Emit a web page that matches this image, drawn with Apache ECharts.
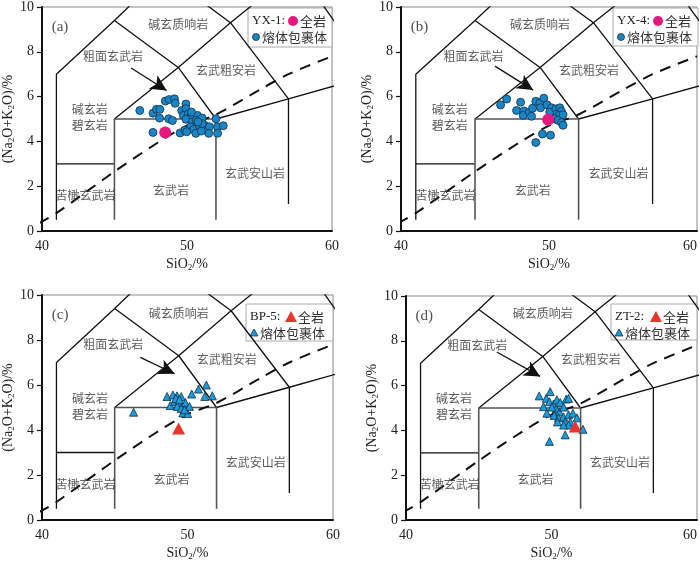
<!DOCTYPE html>
<html><head><meta charset="utf-8">
<script src="https://cdn.jsdelivr.net/npm/echarts@6/dist/echarts.min.js"></script>
<style>html,body{margin:0;padding:0;background:#fff}#c{width:700px;height:562px}</style>
</head><body><div id="c"></div>
<script>
// ---- axis ticks ----
const xTicks = [40, 50, 60];
const yTicks = [0, 2, 4, 6, 8, 10];

// ---- TAS boundary polylines ----
const tasLinesBlack = [
  [[41,0.5],[41,7],[45,9.4],[48.4,11.5]],
  [[41,3],[45,3]],
  [[45,9.4],[49.4,7.3],[52,5]],
  [[45,5],[49.4,7.3],[53,9.3],[57.6,11.7]],
  [[48.4,11.5],[53,9.3],[57,5.9],[57,1.2]],
  [[52,5],[57,5.9],[63,7]],
  [[57.6,11.7],[61,8.6]]
];
const tasLinesGray = [
  [[45,0.5],[45,5],[52,5],[52,0.5]]
];
const alkDivide = [[39.8,0.35],[41,0.8],[45,2.65],[48,3.95],[50,4.7],[52,5.2],[55,6.3],[57,7.0],[60,7.8]];

// ---- field names ----
const fieldNames = ['碱玄质响岩','粗面玄武岩','玄武粗安岩','碱玄岩\n碧玄岩','玄武安山岩','玄武岩','苦橄玄武岩'];
const fieldPos = [[49.4,9.2],[44.9,7.8],[52.7,7.15],[43.3,5.05],[54.7,2.55],[48.9,1.8],[43.0,1.6]];

// ---- panel (a) YX-1 ----
const bulkA = [[48.5,4.4]];
const inclA = [[46.75,5.38],[47.66,4.40],[47.66,5.26],[47.9,5.43],[48.13,5.43],[48.11,5.04],[48.51,5.80],[48.78,5.87],[49.14,5.90],[49.19,5.70],[48.74,5.01],[49.0,4.93],[49.53,4.38],[49.64,5.38],[49.93,5.67],[49.93,5.46],[49.75,5.16],[50.09,5.23],[50.25,5.09],[49.93,4.99],[50.38,4.87],[50.72,5.16],[50.65,4.94],[51.05,5.04],[50.25,4.65],[50.47,4.53],[50.88,4.65],[49.86,4.50],[49.98,4.43],[50.61,4.36],[51.22,4.72],[51.55,4.65],[52.0,5.01],[52.11,4.65],[52.5,4.70],[51.5,4.36],[52.11,4.36],[50.31,5.31],[50.99,4.46],[51.05,4.79],[50.76,4.87]];
const arrowA = [[46.15,7.28],[48.6,6.27]];

// ---- panel (b) YX-4 ----
const bulkB = [[49.94,4.97]];
const inclB = [[46.73,5.63],[47.14,5.89],[47.81,5.38],[48.08,5.75],[48.3,5.36],[48.26,5.16],[48.67,5.31],[48.82,5.12],[48.89,5.48],[49.11,5.79],[49.38,5.72],[49.43,5.5],[49.65,5.93],[49.87,5.63],[50.17,5.5],[50.05,5.31],[50.46,5.45],[50.55,5.23],[50.73,5.5],[50.84,5.34],[50.68,5.16],[50.39,5.01],[50.61,4.94],[50.84,4.84],[50.95,4.72],[49.56,4.33],[50.1,4.28],[49.11,3.95],[50.95,5.19]];
const arrowB = [[46.35,7.36],[48.93,6.29]];

// ---- panel (c) BP-5 ----
const bulkC = [[49.39,4.07]];
const inclC = [[46.3,4.79],[48.6,5.49],[48.82,5.09],[49.0,5.56],[49.28,5.52],[49.57,5.49],[49.12,5.27],[49.42,5.2],[49.68,5.05],[49.86,5.22],[49.3,5.05],[49.57,4.95],[49.68,4.76],[50.02,4.73],[50.14,5.05],[50.29,5.6],[50.76,5.82],[51.3,6.0],[51.19,5.49],[51.71,5.52],[49.2,5.4],[49.45,5.35],[49.8,4.9]];
const arrowC = [[46.76,7.23],[49.12,6.5]];

// ---- panel (d) ZT-2 ----
const bulkD = [[51.63,4.17]];
const inclD = [[49.15,5.54],[49.64,5.43],[49.91,5.73],[49.45,5.06],[49.68,4.77],[49.86,5.28],[50.14,5.18],[50.37,5.37],[50.6,5.25],[51.01,5.4],[51.17,5.43],[50.32,4.96],[50.55,4.82],[50.83,5.04],[50.18,4.67],[50.48,4.56],[50.83,4.6],[51.17,4.7],[51.47,4.77],[51.75,4.56],[50.94,4.38],[51.29,4.38],[51.17,4.24],[50.83,4.24],[50.41,4.38],[52.16,4.05],[50.94,3.80],[49.86,3.51],[50.03,5.04]];
const arrowD = [[46.24,7.5],[49.22,6.41]];

const panels = [
  {tag:'(a)', sample:'YX-1:', bulk:bulkA, incl:inclA, arrow:arrowA, shape:'circle',
   grid:{left:36,top:3,width:296,height:228}, box:[248,8,84,39], alignMax:false},
  {tag:'(b)', sample:'YX-4:', bulk:bulkB, incl:inclB, arrow:arrowB, shape:'circle',
   grid:{left:401,top:3,width:297,height:228}, box:[613,8,85,38], alignMax:true},
  {tag:'(c)', sample:'BP-5:', bulk:bulkC, incl:inclC, arrow:arrowC, shape:'triangle',
   grid:{left:37,top:295,width:296,height:229}, box:[246,304,87,37], alignMax:false},
  {tag:'(d)', sample:'ZT-2:', bulk:bulkD, incl:inclD, arrow:arrowD, shape:'triangle',
   grid:{left:406,top:296,width:291,height:230}, box:[611,304,86,36], alignMax:true}
];

const SERIF = 'Liberation Serif, DejaVu Serif, serif';
const CJK = 'Noto Sans CJK SC';
const PINK = '#e5197f', RED = '#e8342c', BLUEC = '#1a86c6', BLUET = '#1d9ad8', EDGE = '#123048';

const grids = [], xAxes = [], yAxes = [], series = [], graphics = [];
panels.forEach((p, i) => {
  grids.push(Object.assign({show:true, borderColor:'#888', borderWidth:1, backgroundColor:'#fff'}, p.grid));
  xAxes.push({
    type:'value', gridIndex:i, min:xTicks[0], max:xTicks[xTicks.length-1], interval:xTicks[1]-xTicks[0],
    axisLine:{show:true, onZero:false, lineStyle:{color:'#111', width:2}},
    axisTick:{show:false}, splitLine:{show:false},
    axisLabel:{fontFamily:SERIF, fontSize:14, color:'#222', margin:8, alignMaxLabel: p.alignMax ? 'right' : null},
    name:'{t|SiO}{s|2}{t|/%}', nameLocation:'middle', nameGap:25,
    nameTextStyle:{rich:{t:{fontFamily:SERIF, fontSize:14, color:'#222'}, s:{fontFamily:SERIF, fontSize:9, color:'#222', padding:[7,0,0,0]}}}
  });
  yAxes.push({
    type:'value', gridIndex:i, min:yTicks[0], max:yTicks[yTicks.length-1], interval:yTicks[1]-yTicks[0],
    axisLine:{show:true, onZero:false, lineStyle:{color:'#111', width:2}},
    axisTick:{show:true, length:5, lineStyle:{color:'#111', width:1.2}}, splitLine:{show:false},
    axisLabel:{fontFamily:SERIF, fontSize:14, color:'#222', margin:8},
    name:'{t|(Na}{s|2}{t|O+K}{s|2}{t|O)/%}', nameLocation:'middle', nameGap:19, nameRotate:90,
    nameTextStyle:{rich:{t:{fontFamily:SERIF, fontSize:14, color:'#222'}, s:{fontFamily:SERIF, fontSize:9, color:'#222', padding:[7,0,0,0]}}}
  });
  tasLinesBlack.forEach(l => series.push({type:'line', xAxisIndex:i, yAxisIndex:i, data:l, symbol:'none', clip:true, silent:true,
    lineStyle:{color:'#111', width:1.3}, z:2}));
  tasLinesGray.forEach(l => series.push({type:'line', xAxisIndex:i, yAxisIndex:i, data:l, symbol:'none', clip:true, silent:true,
    lineStyle:{color:'#555', width:1.6}, z:2}));
  series.push({type:'line', xAxisIndex:i, yAxisIndex:i, data:alkDivide, symbol:'none', smooth:0.3, clip:true, silent:true,
    lineStyle:{color:'#111', width:2, type:[11,8]}, z:2});
  // field labels + arrow
  series.push({type:'scatter', xAxisIndex:i, yAxisIndex:i, symbolSize:1, itemStyle:{color:'rgba(0,0,0,0)'}, silent:true, z:3,
    data: fieldNames.map((n, k) => ({name:n, value:fieldPos[k]})).concat([{name:p.tag, value:[41.25,9.1],
      label:{fontFamily:SERIF, fontSize:15, color:'#222'}}]),
    label:{show:true, position:'inside', formatter:'{b}', fontFamily:CJK, fontSize:12, color:'#333', lineHeight:16},
    markLine:{silent:true, symbol:['none','arrow'], symbolSize:[12,16], label:{show:false},
      lineStyle:{color:'#111', width:1.3, type:'solid'},
      data:[[{coord:p.arrow[0]},{coord:p.arrow[1]}]]}
  });
  // inclusions
  series.push({type:'scatter', xAxisIndex:i, yAxisIndex:i, data:p.incl, z:5,
    symbol:p.shape, symbolSize: p.shape === 'circle' ? 8 : [8,8],
    itemStyle:{color: p.shape === 'circle' ? BLUEC : BLUET, borderColor:EDGE, borderWidth:0.8, opacity:1}});
  // whole rock
  series.push({type:'scatter', xAxisIndex:i, yAxisIndex:i, data:p.bulk, z:6,
    symbol:p.shape, symbolSize: p.shape === 'circle' ? 12 : [13,12],
    itemStyle:{color: p.shape === 'circle' ? PINK : RED, opacity:1}});
  // legend box
  const [bx, by, bw, bh] = p.box;
  const children = [
    {type:'rect', shape:{x:0, y:0, width:bw, height:bh}, style:{fill:'#fff', stroke:'#aaa', lineWidth:1}},
    {type:'text', x:4, y:13, style:{text:p.sample, font:'13px ' + SERIF, fill:'#222', verticalAlign:'middle'}},
    {type:'text', x:52, y:13, style:{text:'全岩', font:'13px ' + CJK, fill:'#333', verticalAlign:'middle'}},
    {type:'text', x:14, y:29, style:{text:'熔体包裹体', font:'13px ' + CJK, fill:'#333', verticalAlign:'middle'}}
  ];
  if (p.shape === 'circle') {
    children.push({type:'circle', shape:{cx:45, cy:13, r:5}, style:{fill:PINK}});
    children.push({type:'circle', shape:{cx:8, cy:29, r:3.5}, style:{fill:BLUEC, stroke:EDGE, lineWidth:0.8}});
  } else {
    children.push({type:'polygon', shape:{points:[[45,7],[51,18],[39,18]]}, style:{fill:RED}});
    children.push({type:'polygon', shape:{points:[[8,25],[12,32],[4,32]]}, style:{fill:BLUET, stroke:EDGE, lineWidth:0.8}});
  }
  graphics.push({type:'group', x:bx, y:by, z:100, children});
});

const chart = echarts.init(document.getElementById('c'), null, {renderer:'canvas'});
chart.setOption({animation:false, grid:grids, xAxis:xAxes, yAxis:yAxes, series, graphic:graphics});
</script></body></html>
